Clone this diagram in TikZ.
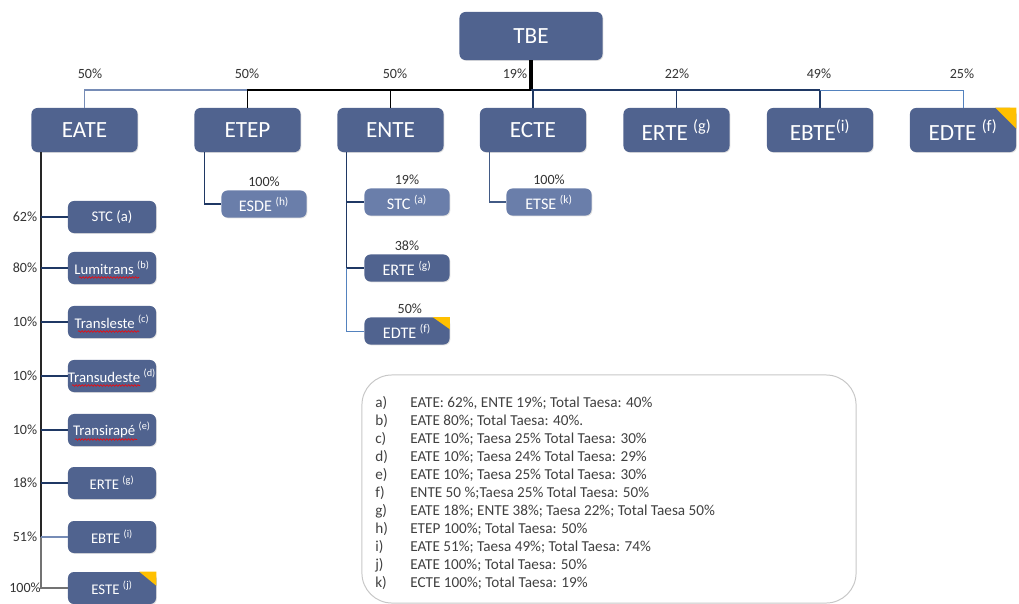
\documentclass[tikz,border=0pt]{standalone}
\usepackage{fontspec}
\setmainfont{Carlito}
\usetikzlibrary{positioning,shadows,decorations.pathmorphing}

\definecolor{boxblue}{RGB}{80,99,143}
\definecolor{boxlight}{RGB}{106,126,170}
\definecolor{navy}{RGB}{31,56,100}
\definecolor{steel}{RGB}{118,140,182}
\definecolor{paleblue}{RGB}{84,130,190}
\definecolor{cornergold}{RGB}{255,192,0}

\begin{document}
\begin{tikzpicture}[x = 0.025cm, y = -0.025cm,
	box/.style = {fill = boxblue, rounded corners = 0.15cm, text = white, inner sep = 0, drop shadow = {opacity = 0.25, shadow xshift = 0.6pt, shadow yshift = -0.6pt}},
	topbox/.style = {box, minimum width = 2.65cm, minimum height = 1.1cm, font = \fontsize{16.5}{19}\selectfont},
	leftbox/.style = {box, minimum width = 2.2cm, minimum height = 0.8cm, font = \fontsize{10.5}{12}\selectfont},
	midbox/.style = {box, minimum width = 2.125cm, minimum height = 0.675cm, font = \fontsize{11.5}{13}\selectfont},
	pct/.style = {inner sep = 0, text = black!80, font = \fontsize{10}{12}\selectfont},
	blackline/.style = {black, line width = 1.4pt},
	navyline/.style = {navy, line width = 1pt},
	steelline/.style = {steel, line width = 1pt},
	paleline/.style = {paleblue, line width = 0.7pt},
	grayline/.style = {black!55, line width = 1.4pt},
	spell/.style = {red, line width = 0.4pt, decorate, decoration = {snake, amplitude = 0.6pt, segment length = 2.2pt}},
	corner/.style = {fill = cornergold}]
	\useasboundingbox (0,0) rectangle (1019,604);
	
	% top level
	\node[topbox, minimum width = 3.575cm, minimum height = 1.2cm] (TBE) at (531,36) {TBE};
	\node[topbox] (EATE) at (84.5,130) {EATE};
	\node[topbox] (ETEP) at (247.5,130) {ETEP};
	\node[topbox] (ENTE) at (390.5,130) {ENTE};
	\node[topbox] (ECTE) at (533,130) {ECTE};
	\node[topbox] (ERTE) at (676.5,130) {ERTE \textsuperscript{(g)}};
	\node[topbox] (EBTE) at (820,130) {EBTE\textsuperscript{(i)}};
	\node[topbox] (EDTE) at (963,130) {EDTE \textsuperscript{(f)}};
	\fill[corner] ([shift = {(-21,0)}]EDTE.north east) -- (EDTE.north east) -- ([shift = {(0,21)}]EDTE.north east) -- cycle;
	
	\coordinate (bus) at (0,90);
	\draw[steelline] (EATE.north) |- (ETEP.north |- bus);
	\draw[blackline] (ETEP.north) |- (TBE.south |- bus);
	\draw[blackline] (ENTE.north) -- (ENTE.north |- bus);
	\draw[black, line width = 2.2pt] (TBE.south) -- (TBE.south |- bus);
	\draw[navyline] (TBE.south |- bus) -- (EBTE.north |- bus);
	\draw[navyline] (ECTE.north) -- (ECTE.north |- bus);
	\draw[navyline] (ERTE.north) -- (ERTE.north |- bus);
	\draw[navyline] (EBTE.north) -- (EBTE.north |- bus);
	\draw[paleline] (EBTE.north |- bus) -| (EDTE.north);
	
	\node[pct] (p1) at (90,74) {50\%};
	\node[pct] (p2) at (247,74) {50\%};
	\node[pct] (p3) at (395,74) {50\%};
	\node[pct] (p4) at (515,74) {19\%};
	\node[pct] (p5) at (677,74) {22\%};
	\node[pct] (p6) at (819,74) {49\%};
	\node[pct] (p7) at (962,74) {25\%};
	
	% EATE column
	\foreach \nm/\txt/\pc/\y in {STCa/{STC (a)}/62/217, LUM/{Lumitrans \textsuperscript{(b)}}/80/268, TRL/{Transleste \textsuperscript{(c)}}/10/322, TRU/{Transudeste \textsuperscript{(d)}}/10/376, TRI/{Transirapé \textsuperscript{(e)}}/10/430, ERTEa/{ERTE \textsuperscript{(g)}}/18/483, EBTEa/{EBTE \textsuperscript{(i)}}/51/537, ESTE/{ESTE \textsuperscript{(j)}}/100/588}
	{
		\node[leftbox] (\nm) at (112,\y) {\txt};
		\node[pct] (p\nm) at (25,\y) {\pc\%};
	}
	\fill[corner] ([shift = {(-17,0)}]ESTE.north east) -- (ESTE.north east) -- ([shift = {(0,14)}]ESTE.north east) -- cycle;
	\foreach \nm/\a/\b in {LUM/-33/27, TRL/-34/27, TRU/-40/28, TRI/-37/25}
		\draw[spell] ([shift = {(\a,9.5)}]\nm.center) -- ([shift = {(\b,9.5)}]\nm.center);
	
	\coordinate (trunk) at ([xshift = 0.24cm]EATE.south west);
	\draw[black!85, line width = 1.4pt] (trunk) -- (trunk |- EBTEa.west);
	\draw[grayline] (trunk |- EBTEa.west) |- (ESTE.west);
	\foreach \nm in {STCa,LUM,TRL,TRU,TRI,ERTEa}
		\draw[navyline] (\nm.west -| trunk) -- (\nm.west);
	\draw[steelline] (EBTEa.west -| trunk) -- (EBTEa.west);
	
	% ETEP, ENTE and ECTE columns
	\node[midbox, fill = boxlight] (ESDE) at (264,204) {ESDE \textsuperscript{(h)}};
	\node[midbox, fill = boxlight] (STCb) at (407,202) {STC \textsuperscript{(a)}};
	\node[midbox] (ERTEb) at (407,268) {ERTE \textsuperscript{(g)}};
	\node[midbox] (EDTEb) at (407,331) {EDTE \textsuperscript{(f)}};
	\node[midbox, fill = boxlight] (ETSE) at (549,202) {ETSE \textsuperscript{(k)}};
	\fill[corner] ([shift = {(-17,0)}]EDTEb.north east) -- (EDTEb.north east) -- ([shift = {(0,12)}]EDTEb.north east) -- cycle;
	
	\node[pct, above = 0.08cm of ESDE] (pESDE) {100\%};
	\node[pct, above = 0.08cm of STCb] (pSTCb) {19\%};
	\node[pct, above = 0.08cm of ERTEb] (pERTEb) {38\%};
	\node[pct, above = 0.08cm of EDTEb, xshift = 0.07cm] (pEDTEb) {50\%};
	\node[pct, above = 0.08cm of ETSE] (pETSE) {100\%};
	
	\coordinate (etepdrop) at ([xshift = 0.25cm]ETEP.south west);
	\coordinate (entedrop) at ([xshift = 0.225cm]ENTE.south west);
	\coordinate (ectedrop) at ([xshift = 0.25cm]ECTE.south west);
	\draw[navyline] (etepdrop) |- (ESDE.west);
	\draw[navyline] (entedrop) |- (ERTEb.west);
	\draw[navyline] (STCb.west -| entedrop) -- (STCb.west);
	\draw[paleline] (ERTEb.west -| entedrop) |- (EDTEb.west);
	\draw[steelline, navy!60!steel] (ectedrop) |- (ETSE.west);
	
	% notes
	\node[draw = black!22, line width = 0.7pt, rounded corners = 0.75cm, minimum width = 12.35cm, minimum height = 5.7cm] (notes) at (609,489) {};
	\foreach \lt/\txt [count = \i] in {a/{EATE: 62\%, ENTE 19\%; Total Taesa: 40\%}, b/{EATE 80\%; Total Taesa: 40\%.}, c/{EATE 10\%; Taesa 25\% Total Taesa: 30\%}, d/{EATE 10\%; Taesa 24\% Total Taesa: 29\%}, e/{EATE 10\%; Taesa 25\% Total Taesa: 30\%}, f/{ENTE 50 \%;Taesa 25\% Total Taesa: 50\%}, g/{EATE 18\%; ENTE 38\%; Taesa 22\%; Total Taesa 50\%}, h/{ETEP 100\%; Total Taesa: 50\%}, i/{EATE 51\%; Taesa 49\%; Total Taesa: 74\%}, j/{EATE 100\%; Total Taesa: 50\%}, k/{ECTE 100\%; Total Taesa: 19\%}}
	{
		\node[anchor = west, inner sep = 0, text = black!75, font = \fontsize{10.8}{12}\selectfont] (lt\i) at (375,385+18*\i) {\lt)};
		\node[anchor = west, inner sep = 0, text = black!75, font = \fontsize{10.8}{12}\selectfont] (lx\i) at (410,385+18*\i) {\txt};
	}
\end{tikzpicture}
\end{document}
